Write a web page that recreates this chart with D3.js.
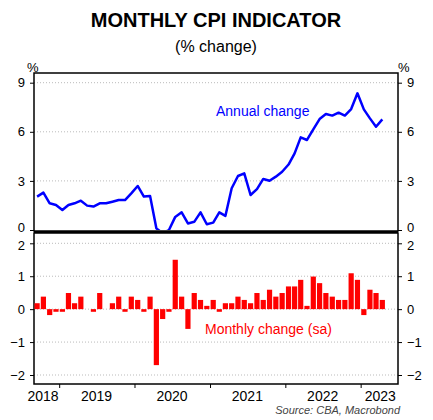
<!DOCTYPE html><html><head><meta charset="utf-8"><script src="https://cdn.jsdelivr.net/npm/d3@7"></script>
<style>body{margin:0;background:#fff}text{font-family:"Liberation Sans",Arial,sans-serif}</style></head><body>
<svg id="c" width="433" height="420"></svg>
<script>
const startYear=2018, startMonth=8; // Sep 2018 (0-based month)
const annual=[2.04,2.28,1.63,1.53,1.22,1.53,1.63,1.79,1.49,1.43,1.63,1.63,1.73,1.83,1.83,2.24,2.69,2.04,2.08,0.1,-0.2,0,0.8,1.08,0.4,0.5,1.08,0.35,0.45,1.08,0.86,2.55,3.3,3.46,2.14,2.5,3.12,3.01,3.26,3.56,4.0,4.68,5.66,5.5,6.15,6.78,7.09,6.99,7.17,6.99,7.39,8.35,7.37,6.82,6.31,6.76];
const monthly=[0.18,0.38,-0.18,-0.08,-0.08,0.49,0.18,0.38,0,-0.08,0.49,0,0.18,0.38,-0.08,0.38,0.28,-0.08,0.38,-1.7,-0.3,-0.08,1.5,0.38,-0.6,0.49,0.28,0.1,0.28,-0.08,0.18,0.18,0.38,0.28,0.18,0.49,0.28,0.59,0.38,0.49,0.69,0.69,0.89,0.1,0.99,0.79,0.49,0.38,0.28,0.28,1.09,0.89,-0.18,0.59,0.49,0.28];
const years=[2018,2019,2020,2021,2022,2023];
const topTicks=[0,3,6,9], botTicks=[-2,-1,0,1,2];
const svg=d3.select("#c");
const L=34,R=398;
const x=d3.scaleTime().domain([new Date(2018,8,1),new Date(2023,6,1)]).range([L,R]);
const mid=i=>{const a=new Date(startYear,startMonth+i,1),b=new Date(startYear,startMonth+i+1,1);return (x(a)+x(b))/2;};
const yT=d3.scaleLinear().domain([0,9]).range([230,82.7]);
const yB=d3.scaleLinear().domain([-2,2]).range([375,243.3]);
svg.append("text").attr("x",216).attr("y",27).attr("text-anchor","middle").attr("font-size",20).attr("font-weight","bold").text("MONTHLY CPI INDICATOR");
svg.append("text").attr("x",216).attr("y",52).attr("text-anchor","middle").attr("font-size",16).text("(% change)");
svg.append("text").attr("x",27).attr("y",72).attr("font-size",13).text("%");
svg.append("text").attr("x",398).attr("y",72).attr("font-size",13).text("%");
function grid(y,ticks,y0,y1,shift){
  ticks.forEach(t=>{const yy=y(t);if(yy>y0+1&&yy<y1-1)svg.append("line").attr("x1",L).attr("x2",R).attr("y1",yy).attr("y2",yy).attr("stroke","#bbb").attr("stroke-dasharray","1,2");});
  const fix=g=>{g.select(".domain").remove();g.selectAll("text").attr("font-size",13).attr("font-family","Liberation Sans").attr("fill","#000").attr("y",d=>shift(d));};
  svg.append("g").attr("transform",`translate(${L},0)`).call(d3.axisLeft(y).tickValues(ticks).tickSize(4).tickFormat(d3.format("d"))).call(fix).selectAll("text").attr("dx",-2);
  svg.append("g").attr("transform",`translate(${R},0)`).call(d3.axisRight(y).tickValues(ticks).tickSize(4).tickFormat(d3.format("d"))).call(fix).selectAll("text").attr("dx",2);
  svg.append("rect").attr("x",L).attr("y",y0).attr("width",R-L).attr("height",y1-y0).attr("fill","none").attr("stroke","#000").attr("stroke-width",1.5);
}
grid(yT,topTicks,73,231,d=>d===0?-3:0);
grid(yB,botTicks,233,384,d=>d===2?2:0);
svg.append("line").attr("x1",L).attr("x2",R).attr("y1",232).attr("y2",232).attr("stroke","#000").attr("stroke-width",2);
svg.append("clipPath").attr("id","ct").append("rect").attr("x",L).attr("y",73).attr("width",R-L).attr("height",157);
svg.append("path").datum(annual).attr("clip-path","url(#ct)").attr("fill","none").attr("stroke","#0000ff").attr("stroke-width",2.5).attr("stroke-linejoin","round")
 .attr("d",d3.line().x((d,i)=>mid(i)).y(d=>yT(d)));
svg.append("g").selectAll("rect").data(monthly).join("rect")
 .attr("x",(d,i)=>mid(i)-2.6).attr("width",5.2).attr("y",d=>yB(Math.max(0,d))).attr("height",d=>Math.abs(yB(d)-yB(0))).attr("fill","#ff0000");
svg.append("text").attr("x",216).attr("y",116).attr("fill","#0000ff").attr("font-size",14).text("Annual change");
svg.append("text").attr("x",205).attr("y",334).attr("fill","#ff0000").attr("font-size",14).text("Monthly change (sa)");
svg.append("g").attr("transform","translate(0,384)").call(d3.axisBottom(x).tickValues(years.slice(1).map(y=>new Date(y,0,1))).tickSize(4).tickFormat(""))
 .call(g=>g.select(".domain").remove());
years.forEach(yv=>{
  let cx=x(new Date(yv,6,1)); if(yv===2018)cx=x(new Date(2018,8,1))+9; if(yv===2023)cx=x(new Date(2023,3,1))+1;
  svg.append("text").attr("x",cx).attr("y",401).attr("text-anchor","middle").attr("font-size",14).text(yv);
});
svg.append("text").attr("x",400).attr("y",414).attr("text-anchor","end").attr("font-size",11).attr("font-style","italic").attr("fill","#444").text("Source: CBA, Macrobond");
</script></body></html>
